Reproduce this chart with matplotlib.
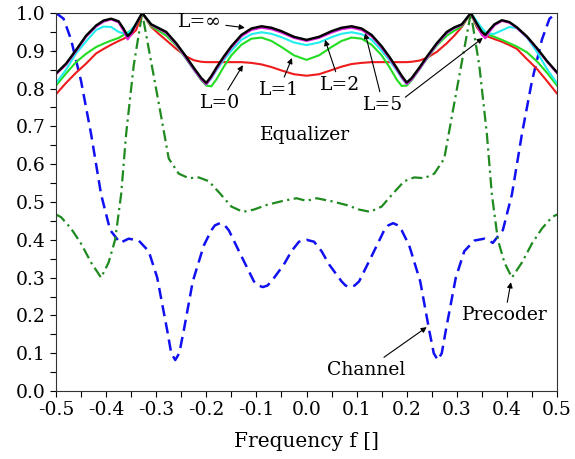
import matplotlib
matplotlib.use('Agg')
import matplotlib.pyplot as plt
import numpy as np

matplotlib.rcParams['font.family'] = ['DejaVu Serif']
matplotlib.rcParams['axes.unicode_minus'] = False

# equalizer curves share one frequency grid
f_eq = [-0.5, -0.48, -0.46, -0.44, -0.42, -0.405, -0.39, -0.375, -0.365, -0.357, -0.35,
        -0.34, -0.328, -0.31, -0.295, -0.28, -0.26, -0.24, -0.225, -0.21, -0.2, -0.19,
        -0.18, -0.165, -0.15, -0.13, -0.11, -0.09, -0.07, -0.05, -0.025, 0.0,
        0.025, 0.05, 0.07, 0.09, 0.11, 0.13, 0.15, 0.165, 0.18, 0.19, 0.2, 0.21,
        0.225, 0.24, 0.26, 0.28, 0.295, 0.31, 0.328, 0.34, 0.35, 0.357, 0.365, 0.375,
        0.39, 0.405, 0.42, 0.44, 0.46, 0.48, 0.5]
eq_L0 = [0.785, 0.815, 0.842, 0.866, 0.893, 0.905, 0.916, 0.926, 0.932, 0.938, 0.942,
         0.955, 1.0, 0.963, 0.945, 0.928, 0.905, 0.885, 0.875, 0.871, 0.870, 0.870,
         0.870, 0.870, 0.870, 0.870, 0.868, 0.864, 0.857, 0.848, 0.838, 0.834,
         0.838, 0.849, 0.858, 0.865, 0.868, 0.870, 0.870, 0.870, 0.870, 0.870, 0.870, 0.871,
         0.874, 0.881, 0.897, 0.920, 0.940, 0.963, 1.0, 0.962, 0.945, 0.940, 0.936, 0.931,
         0.924, 0.915, 0.905, 0.878, 0.852, 0.820, 0.787]
eq_L1 = [0.808, 0.840, 0.870, 0.892, 0.910, 0.919, 0.927, 0.934, 0.942, 0.948, 0.955,
         0.968, 1.0, 0.965, 0.953, 0.940, 0.914, 0.878, 0.850, 0.822, 0.808, 0.806,
         0.824, 0.858, 0.888, 0.916, 0.932, 0.935, 0.926, 0.910, 0.888, 0.876,
         0.888, 0.910, 0.926, 0.935, 0.932, 0.916, 0.888, 0.858, 0.824, 0.807, 0.808, 0.822,
         0.850, 0.878, 0.914, 0.940, 0.953, 0.965, 1.0, 0.965, 0.952, 0.946, 0.942, 0.937,
         0.929, 0.920, 0.911, 0.896, 0.872, 0.842, 0.808]
eq_L2 = [0.814, 0.850, 0.893, 0.925, 0.955, 0.964, 0.963, 0.950, 0.946, 0.946, 0.955,
         0.972, 1.0, 0.970, 0.960, 0.947, 0.917, 0.880, 0.851, 0.824, 0.811, 0.827,
         0.848, 0.876, 0.900, 0.929, 0.944, 0.949, 0.945, 0.936, 0.922, 0.915,
         0.922, 0.936, 0.945, 0.949, 0.944, 0.929, 0.900, 0.876, 0.848, 0.828, 0.812, 0.824,
         0.851, 0.880, 0.917, 0.947, 0.960, 0.970, 1.0, 0.978, 0.960, 0.950, 0.945, 0.945,
         0.954, 0.963, 0.960, 0.935, 0.897, 0.852, 0.814]
eq_L5 = [0.838, 0.863, 0.899, 0.937, 0.964, 0.977, 0.983, 0.975, 0.952, 0.930, 0.942,
         0.970, 1.0, 0.968, 0.958, 0.947, 0.917, 0.880, 0.851, 0.824, 0.811, 0.829,
         0.851, 0.881, 0.908, 0.938, 0.955, 0.961, 0.957, 0.948, 0.934, 0.926,
         0.934, 0.948, 0.957, 0.961, 0.955, 0.938, 0.908, 0.881, 0.851, 0.830, 0.812, 0.824,
         0.851, 0.880, 0.917, 0.947, 0.960, 0.968, 1.0, 0.968, 0.942, 0.933, 0.950, 0.967,
         0.979, 0.974, 0.960, 0.936, 0.905, 0.871, 0.841]
eq_Linf = [0.840, 0.866, 0.902, 0.940, 0.967, 0.980, 0.985, 0.978, 0.958, 0.939, 0.948,
           0.972, 1.0, 0.970, 0.960, 0.950, 0.920, 0.884, 0.855, 0.828, 0.815, 0.833,
           0.855, 0.885, 0.912, 0.942, 0.959, 0.965, 0.961, 0.952, 0.937, 0.929,
           0.937, 0.952, 0.961, 0.965, 0.959, 0.942, 0.912, 0.885, 0.855, 0.834, 0.816, 0.828,
           0.855, 0.884, 0.920, 0.950, 0.962, 0.970, 1.0, 0.972, 0.950, 0.942, 0.955, 0.970,
           0.981, 0.976, 0.962, 0.938, 0.907, 0.873, 0.843]

f_ch = [-0.5, -0.485, -0.47, -0.45, -0.43, -0.41, -0.392, -0.372, -0.355, -0.335, -0.315,
        -0.298, -0.278, -0.27, -0.262, -0.254, -0.245, -0.227, -0.205, -0.19, -0.183,
        -0.173, -0.163, -0.155, -0.133, -0.105, -0.096, -0.087, -0.078, -0.07, -0.045,
        -0.03, -0.015, 0.0, 0.015, 0.03, 0.045, 0.07, 0.078, 0.087, 0.096, 0.105,
        0.133, 0.155, 0.163, 0.173, 0.183, 0.19, 0.205, 0.227, 0.245, 0.254, 0.262,
        0.27, 0.278, 0.298, 0.315, 0.335, 0.355, 0.372, 0.392, 0.41, 0.43, 0.45, 0.47,
        0.485, 0.5]
channel = [1.0, 0.985, 0.930, 0.820, 0.680, 0.520, 0.426, 0.392, 0.403, 0.398, 0.370,
           0.300, 0.160, 0.100, 0.082, 0.100, 0.160, 0.290, 0.385, 0.425, 0.438,
           0.444, 0.438, 0.425, 0.365, 0.290, 0.279, 0.275, 0.279, 0.290, 0.335,
           0.370, 0.395, 0.400, 0.395, 0.370, 0.335, 0.290, 0.279, 0.275, 0.279, 0.290,
           0.365, 0.425, 0.438, 0.444, 0.438, 0.425, 0.385, 0.290, 0.160, 0.100, 0.082,
           0.100, 0.160, 0.300, 0.370, 0.398, 0.403, 0.392, 0.426, 0.520, 0.680, 0.820, 0.930,
           0.985, 1.0]

f_pre = [-0.5, -0.49, -0.47, -0.45, -0.43, -0.41, -0.395, -0.382, -0.37, -0.36, -0.345,
         -0.328, -0.31, -0.292, -0.275, -0.255, -0.235, -0.215, -0.195, -0.173, -0.15,
         -0.127, -0.105, -0.08, -0.05, -0.02, 0.0, 0.02, 0.05, 0.08, 0.105, 0.127, 0.15,
         0.173, 0.195, 0.215, 0.235, 0.255, 0.275, 0.292, 0.31, 0.328, 0.345, 0.36,
         0.37, 0.382, 0.395, 0.41, 0.43, 0.45, 0.47, 0.49, 0.5]
precoder = [0.467, 0.460, 0.430, 0.390, 0.340, 0.300, 0.340, 0.400, 0.520, 0.680, 0.860,
            1.0, 0.870, 0.740, 0.615, 0.575, 0.563, 0.565, 0.555, 0.523, 0.488,
            0.474, 0.480, 0.492, 0.502, 0.510, 0.503, 0.510, 0.502, 0.492, 0.480, 0.474, 0.488,
            0.523, 0.555, 0.565, 0.563, 0.575, 0.615, 0.740, 0.870, 1.0, 0.860, 0.680,
            0.520, 0.400, 0.340, 0.300, 0.340, 0.390, 0.430, 0.460, 0.467]

x_ticks = [-0.5, -0.4, -0.3, -0.2, -0.1, 0.0, 0.1, 0.2, 0.3, 0.4, 0.5]
y_ticks = [0.0, 0.1, 0.2, 0.3, 0.4, 0.5, 0.6, 0.7, 0.8, 0.9, 1.0]

fig = plt.figure(figsize=(5.75, 4.59), dpi=100)
ax = fig.add_axes([0.0974, 0.1481, 0.8713, 0.8236])

ax.plot(f_ch, channel, color='#1010f0', lw=1.8, dashes=(4.5, 2.5))
ax.plot(f_pre, precoder, color='#1f8a1f', lw=1.6, dashes=(5, 2, 1, 2))
ax.plot(f_eq, eq_L0, color='#ee1c1c', lw=1.5)
ax.plot(f_eq, eq_L1, color='#22dd22', lw=1.5)
ax.plot(f_eq, eq_L2, color='#22eeee', lw=1.5)
ax.plot(f_eq, eq_L5, color='#dd22dd', lw=1.5)
ax.plot(f_eq, eq_Linf, color='black', lw=1.7)

ax.set_xlim(-0.5, 0.5)
ax.set_ylim(0, 1.0)
ax.set_xticks(x_ticks)
ax.set_xticklabels(['%.1f' % v for v in x_ticks])
ax.set_yticks(y_ticks)
ax.set_yticklabels(['%.1f' % v for v in y_ticks])
ax.set_xticks(np.arange(-0.45, 0.5, 0.1), minor=True)
ax.set_yticks(np.arange(0.05, 1.0, 0.1), minor=True)
ax.tick_params(which='both', direction='out', length=4, width=0.8, top=False, right=False)
ax.tick_params(labelsize=13.5)
ax.set_xlabel('Frequency f []', fontsize=14.5, labelpad=9)
for s in ax.spines.values():
    s.set_color('#333333')

arrow = dict(arrowstyle='-|>', color='black', lw=0.8, mutation_scale=8, shrinkA=1, shrinkB=0)
fs = 13.5
ax.annotate('L=∞', xy=(-0.123, 0.961), xytext=(-0.213, 0.976), fontsize=fs,
            ha='center', va='center', arrowprops=arrow)
ax.annotate('L=0', xy=(-0.127, 0.862), xytext=(-0.173, 0.762), fontsize=fs,
            ha='center', va='center', arrowprops=arrow)
ax.annotate('L=1', xy=(-0.029, 0.881), xytext=(-0.055, 0.796), fontsize=fs,
            ha='center', va='center', arrowprops=arrow)
ax.annotate('L=2', xy=(0.037, 0.929), xytext=(0.067, 0.810), fontsize=fs,
            ha='center', va='center', arrowprops=arrow)
ax.annotate('L=5', xy=(0.117, 0.947), xytext=(0.153, 0.757), fontsize=fs,
            ha='center', va='center', arrowprops=arrow)
ax.annotate('', xy=(0.352, 0.934), xytext=(0.195, 0.775), arrowprops=arrow)
ax.text(-0.003, 0.677, 'Equalizer', fontsize=fs, ha='center', va='center')
ax.annotate('Channel', xy=(0.24, 0.169), xytext=(0.119, 0.056), fontsize=fs,
            ha='center', va='center', arrowprops=arrow)
ax.annotate('Precoder', xy=(0.408, 0.288), xytext=(0.396, 0.200), fontsize=fs,
            ha='center', va='center', arrowprops=arrow)

plt.savefig('out.png', dpi=100)
